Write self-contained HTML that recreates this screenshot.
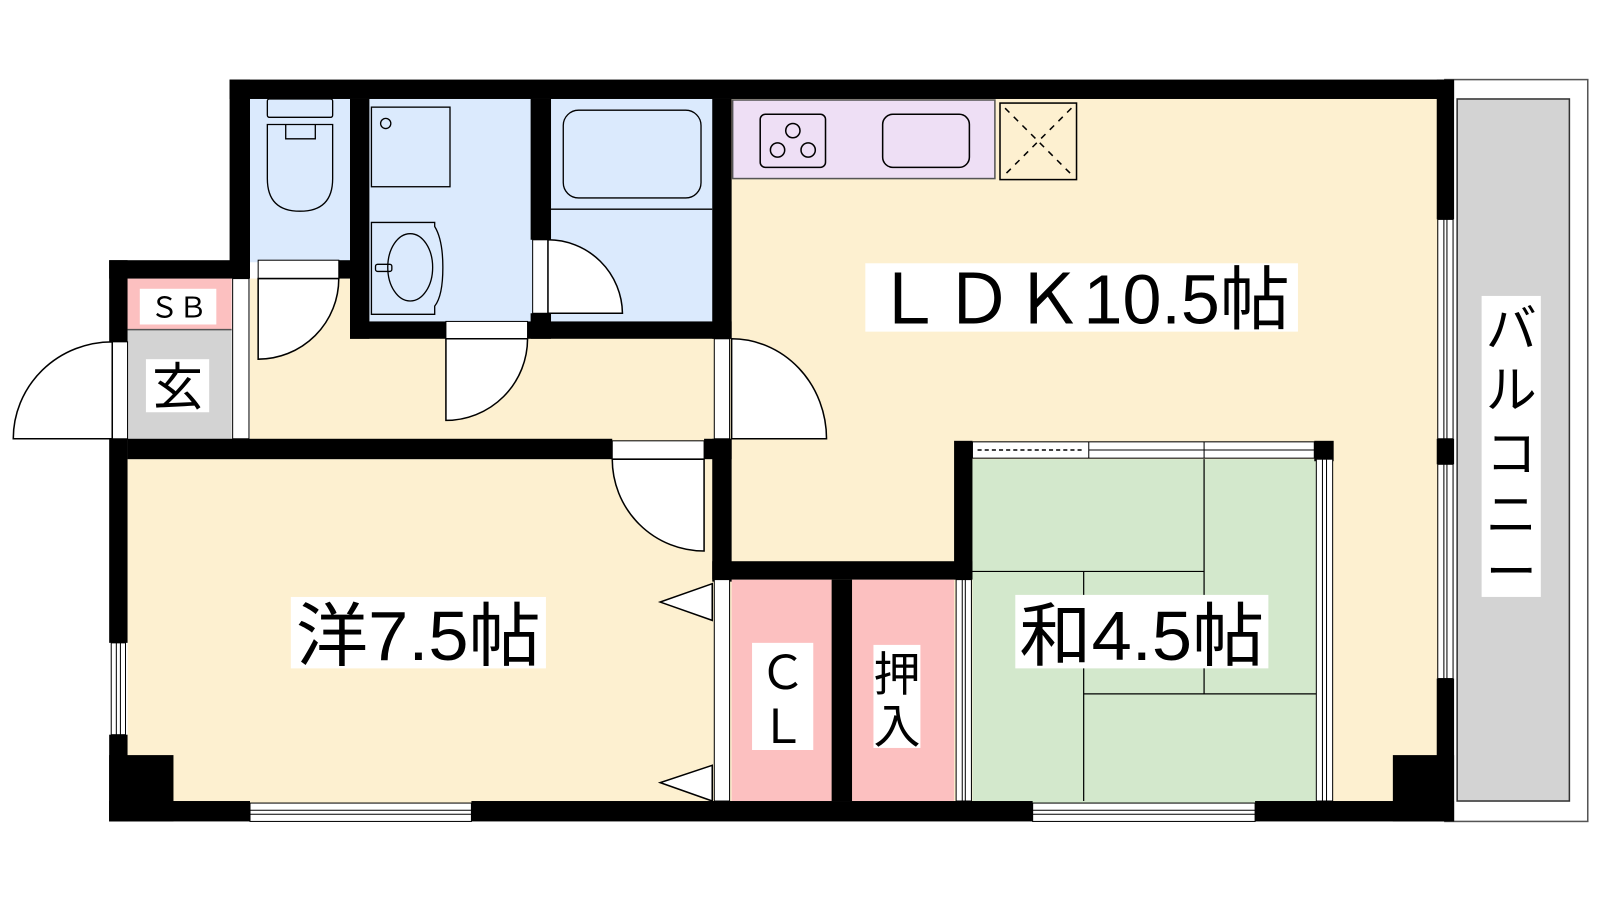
<!DOCTYPE html>
<html><head><meta charset="utf-8"><style>
html,body{margin:0;padding:0;background:#fff;width:1600px;height:900px;overflow:hidden}
svg{display:block}
text{font-family:"Liberation Sans","Noto Sans CJK JP",sans-serif;fill:#000}
</style></head><body>
<svg width="1600" height="900" viewBox="0 0 1568 882" xmlns="http://www.w3.org/2000/svg">
<rect width="1568" height="882" fill="#fff"/>
<rect x="1416" y="78" width="140" height="727" fill="#fff" stroke="#555" stroke-width="1.5"/>
<rect x="1428" y="97" width="110" height="688" fill="#d3d3d3" stroke="#333" stroke-width="1.5"/>
<rect x="245" y="273" width="455" height="160" fill="#fdf0d0"/>
<rect x="125" y="450" width="575" height="337" fill="#fdf0d0"/>
<rect x="715" y="95" width="695" height="692" fill="#fdf0d0"/>
<rect x="245" y="97" width="100" height="160" fill="#dbeafd"/>
<rect x="360" y="97" width="162" height="220" fill="#dbeafd"/>
<rect x="538" y="97" width="162" height="220" fill="#dbeafd"/>
<rect x="953" y="450" width="337" height="337" fill="#d3e8cc"/>
<rect x="717" y="568" width="98" height="217" fill="#fcc0c0"/>
<rect x="835" y="568" width="100" height="217" fill="#fcc0c0"/>
<rect x="125" y="273" width="102" height="50" fill="#fcc0c0"/>
<rect x="125" y="323" width="102" height="108" fill="#d3d3d3"/>
<line x1="125" y1="323" x2="227" y2="323" stroke="#555" stroke-width="1.5"/>
<rect x="228" y="273" width="16" height="157" fill="#fff" stroke="#000" stroke-width="1"/>
<rect x="718" y="98" width="257" height="77" fill="#eedff5" stroke="#555" stroke-width="1.5"/>
<rect x="745" y="112" width="64" height="52" rx="5" fill="none" stroke="#000" stroke-width="1.5"/>
<g fill="none" stroke="#000" stroke-width="1.5">
<circle cx="777" cy="128" r="7"/><circle cx="762" cy="147" r="7"/><circle cx="792" cy="147" r="7"/>
</g>
<rect x="865" y="112" width="85" height="52" rx="10" fill="none" stroke="#000" stroke-width="1.5"/>
<rect x="980" y="101" width="75" height="75" fill="#fdf0d0" stroke="#000" stroke-width="1.5"/>
<path d="M985 106 L1050 171 M1050 106 L985 171" stroke="#000" stroke-width="1.5" stroke-dasharray="6,6"/>
<g fill="none" stroke="#000" stroke-width="1.3">
<rect x="262" y="97" width="64" height="18" rx="2"/>
<path d="M262 122 H326 V175 Q326 207 294 207 Q262 207 262 175 Z"/>
<path d="M280 122 V136 H309 V122"/>
<rect x="364" y="105" width="77" height="78"/>
<circle cx="378" cy="121" r="5"/>
<path d="M364 218 H426 V222 Q434 235 434 262 Q434 290 426 300 V308 H364 Z"/>
<ellipse cx="402" cy="262" rx="22" ry="33"/>
<rect x="368" y="259" width="16" height="7" rx="2"/>
<rect x="552" y="108" width="135" height="86" rx="15"/>
<line x1="540" y1="205" x2="698" y2="205"/>
</g>
<g fill="#000">
<rect x="225" y="78" width="1200" height="19"/>
<rect x="225" y="78" width="20" height="180"/>
<rect x="107" y="255" width="138" height="18"/>
<rect x="107" y="255" width="18" height="80"/>
<rect x="107" y="430" width="18" height="200"/>
<rect x="107" y="720" width="18" height="85"/>
<rect x="107" y="740" width="63" height="65"/>
<rect x="107" y="785" width="138" height="20"/>
<rect x="462" y="785" width="550" height="20"/>
<rect x="1230" y="785" width="195" height="20"/>
<rect x="1365" y="740" width="60" height="65"/>
<rect x="1408" y="78" width="17" height="137"/>
<rect x="1408" y="430" width="17" height="25"/>
<rect x="1408" y="665" width="17" height="140"/>
<rect x="343" y="97" width="19" height="235"/>
<rect x="520" y="97" width="20" height="138"/>
<rect x="520" y="307" width="20" height="25"/>
<rect x="343" y="315" width="94" height="17"/>
<rect x="517" y="315" width="200" height="17"/>
<rect x="332" y="255" width="13" height="18"/>
<rect x="698" y="97" width="19" height="235"/>
<rect x="698" y="430" width="19" height="140"/>
<rect x="125" y="430" width="475" height="20"/>
<rect x="690" y="430" width="27" height="20"/>
<rect x="698" y="550" width="255" height="18"/>
<rect x="935" y="432" width="18" height="136"/>
<rect x="815" y="568" width="20" height="217"/>
<rect x="1288" y="432" width="19" height="20"/>
</g>
<g fill="#fff" stroke="#000" stroke-width="1">
<rect x="245" y="787" width="217" height="18"/>
<line x1="245" y1="794" x2="462" y2="794"/><line x1="245" y1="798" x2="462" y2="798"/>
<rect x="1012" y="787" width="218" height="18"/>
<line x1="1012" y1="794" x2="1230" y2="794"/><line x1="1012" y1="798" x2="1230" y2="798"/>
<rect x="109" y="630" width="14" height="90"/>
<line x1="114" y1="630" x2="114" y2="720"/><line x1="118" y1="630" x2="118" y2="720"/>
<rect x="1409" y="215" width="15" height="215"/>
<line x1="1415" y1="215" x2="1415" y2="430"/><line x1="1418" y1="215" x2="1418" y2="430"/>
<rect x="1409" y="455" width="15" height="210"/>
<line x1="1415" y1="455" x2="1415" y2="665"/><line x1="1418" y1="455" x2="1418" y2="665"/>
<rect x="953" y="433" width="335" height="16"/>
<line x1="1067" y1="433" x2="1067" y2="449"/><line x1="1180" y1="433" x2="1180" y2="449"/>
<line x1="1067" y1="441" x2="1288" y2="441"/>
<rect x="1290" y="450" width="16" height="335"/>
<line x1="1296" y1="450" x2="1296" y2="785"/><line x1="1300" y1="450" x2="1300" y2="785"/>
<rect x="937" y="568" width="15" height="217"/>
<line x1="943" y1="568" x2="943" y2="785"/><line x1="946" y1="568" x2="946" y2="785"/>
<rect x="110" y="335" width="15" height="95"/>
<rect x="700" y="332" width="15" height="98"/>
<rect x="700" y="568" width="15" height="217"/>
<rect x="253" y="255" width="79" height="18"/>
<rect x="437" y="315" width="80" height="17"/>
<rect x="522" y="235" width="15" height="72"/>
<rect x="600" y="432" width="90" height="18"/>
</g>
<path d="M958 441 H1062" stroke="#000" stroke-width="1.5" stroke-dasharray="4,3"/>
<g stroke="#000" stroke-width="1.2" fill="none">
<path d="M953 560 H1180 M1180 450 V680 M1062 560 V785 M1062 680 H1290"/>
</g>
<g fill="#fff" stroke="#000" stroke-width="1.5">
<path d="M110 335 V430 H13 A97 95 0 0 1 110 335 Z"/>
<path d="M253 273 H332 A79 79 0 0 1 253 352 Z"/>
<path d="M437 332 H517 A80 80 0 0 1 437 412 Z"/>
<path d="M537 235 A73 73 0 0 1 610 307 H537 Z"/>
<path d="M717 332 A93 98 0 0 1 810 430 H717 Z"/>
<path d="M690 450 V540 A90 90 0 0 1 600 450 Z"/>
<path d="M698 572 L647 590 L698 608 Z"/>
<path d="M698 750 L647 767 L698 785 Z"/>
</g>
<g fill="#fff">
<rect x="848" y="258" width="424" height="67"/>
<rect x="285" y="585" width="250" height="70"/>
<rect x="995" y="583" width="248" height="72"/>
<rect x="1452" y="290" width="58" height="295"/>
<rect x="737" y="630" width="60" height="105"/>
<rect x="856" y="632" width="46" height="101"/>
<rect x="143" y="352" width="62" height="52"/>
<rect x="137" y="283" width="75" height="35"/>
</g>
<text x="1060" y="317" font-size="68" text-anchor="middle" textLength="408" lengthAdjust="spacingAndGlyphs">ＬＤＫ10.5帖</text>
<text x="410" y="647" font-size="68" text-anchor="middle" textLength="240" lengthAdjust="spacingAndGlyphs">洋7.5帖</text>
<text x="1119" y="647" font-size="68" text-anchor="middle" textLength="240" lengthAdjust="spacingAndGlyphs">和4.5帖</text>
<g font-size="50" text-anchor="middle">
<text x="1481" y="340">バ</text><text x="1481" y="400">ル</text><text x="1481" y="462">コ</text><text x="1481" y="522">ニ</text><text x="1481" y="578">ー</text>
</g>
<text x="767" y="675" font-size="46" text-anchor="middle">Ｃ</text>
<text x="767" y="728" font-size="46" text-anchor="middle">Ｌ</text>
<text x="879" y="677" font-size="46" text-anchor="middle">押</text>
<text x="879" y="728" font-size="46" text-anchor="middle">入</text>
<text x="174" y="397" font-size="50" text-anchor="middle">玄</text>
<text x="175" y="311" font-size="28" text-anchor="middle">ＳＢ</text>
</svg>
</body></html>
